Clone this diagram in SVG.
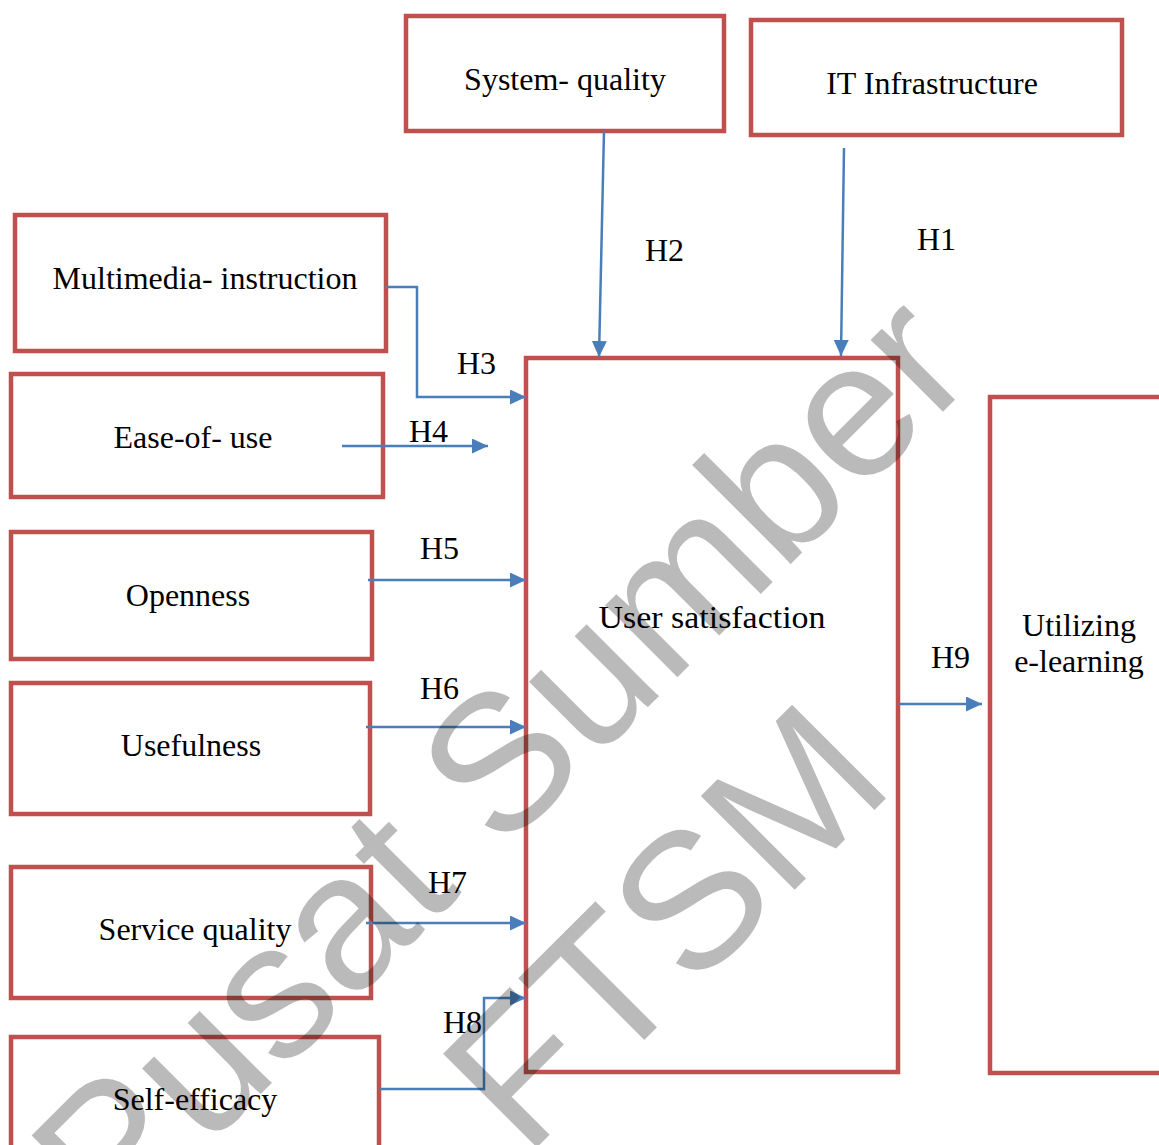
<svg xmlns="http://www.w3.org/2000/svg" width="1159" height="1145" viewBox="0 0 1159 1145">
<style>
.box{fill:#fff;stroke:#C0504D;stroke-width:4.5}
.lbl{font-family:"Liberation Serif","Times New Roman",serif;font-size:32px;fill:#000}
.mid{text-anchor:middle}
.con{fill:none;stroke:#4A7EBB;stroke-width:2.5}
.wm{font-family:"Liberation Sans",Arial,sans-serif;font-size:193px;fill:#000;fill-opacity:0.27;text-anchor:middle}
</style>
<defs>
<marker id="arr" markerUnits="userSpaceOnUse" markerWidth="17" markerHeight="16" refX="16" refY="7.5" orient="auto">
<path d="M0,0 L16,7.5 L0,15 z" fill="#4A7EBB"/>
</marker>
</defs>
<rect width="1159" height="1145" fill="#fff"/>
<g id="system-quality"><rect class="box" x="406" y="16" width="318" height="115"/><text class="lbl mid" x="565" y="90">System- quality</text></g>
<g id="it-infrastructure"><rect class="box" x="751" y="20" width="371" height="115"/><text class="lbl mid" x="932" y="94">IT Infrastructure</text></g>
<g id="multimedia-instruction"><rect class="box" x="15" y="215" width="371" height="136"/><text class="lbl mid" x="205" y="289">Multimedia- instruction</text></g>
<g id="ease-of-use"><rect class="box" x="11" y="374" width="372" height="123"/><text class="lbl mid" x="193" y="448">Ease-of- use</text></g>
<g id="openness"><rect class="box" x="11" y="532" width="361" height="127"/><text class="lbl mid" x="188" y="606">Openness</text></g>
<g id="usefulness"><rect class="box" x="11" y="683" width="359" height="131"/><text class="lbl mid" x="191" y="756">Usefulness</text></g>
<g id="service-quality"><rect class="box" x="11" y="867" width="360" height="131"/><text class="lbl mid" x="195" y="940">Service quality</text></g>
<g id="self-efficacy"><rect class="box" x="11" y="1037" width="368" height="130"/><text class="lbl mid" x="195" y="1110">Self-efficacy</text></g>
<g id="user-satisfaction"><rect class="box" x="526" y="358" width="372" height="714"/><text class="lbl mid" x="712" y="628" textLength="227" lengthAdjust="spacingAndGlyphs">User satisfaction</text></g>
<g id="utilizing-e-learning"><rect class="box" x="990" y="397" width="200" height="676"/><text class="lbl mid" x="1079" y="636">Utilizing</text><text class="lbl mid" x="1079" y="672">e-learning</text></g>
<g id="connectors">
<path class="con" d="M604,131 L599,357" marker-end="url(#arr)"/>
<path class="con" d="M844,148 L841,356" marker-end="url(#arr)"/>
<path class="con" d="M386,287 H417 V397 H526" marker-end="url(#arr)"/>
<path class="con" d="M342,446 H488" marker-end="url(#arr)"/>
<path class="con" d="M368,580 H526" marker-end="url(#arr)"/>
<path class="con" d="M366,727 H526" marker-end="url(#arr)"/>
<path class="con" d="M366,923 H526" marker-end="url(#arr)"/>
<path class="con" d="M380,1089 H484 V998 H526" marker-end="url(#arr)"/>
<path class="con" d="M899,704 H982" marker-end="url(#arr)"/>
<text class="lbl" x="645" y="261">H2</text>
<text class="lbl" x="917" y="250">H1</text>
<text class="lbl" x="457" y="374">H3</text>
<text class="lbl" x="409" y="442">H4</text>
<text class="lbl" x="420" y="559">H5</text>
<text class="lbl" x="420" y="699">H6</text>
<text class="lbl" x="428" y="893">H7</text>
<text class="lbl" x="443" y="1033">H8</text>
<text class="lbl" x="931" y="668">H9</text>
</g>
<g id="watermark" transform="rotate(-45)">
<text class="wm" x="-185" y="958">Pusat Sumber</text>
<text class="wm" x="-185" y="1191">FTSM</text>
</g>
</svg>
